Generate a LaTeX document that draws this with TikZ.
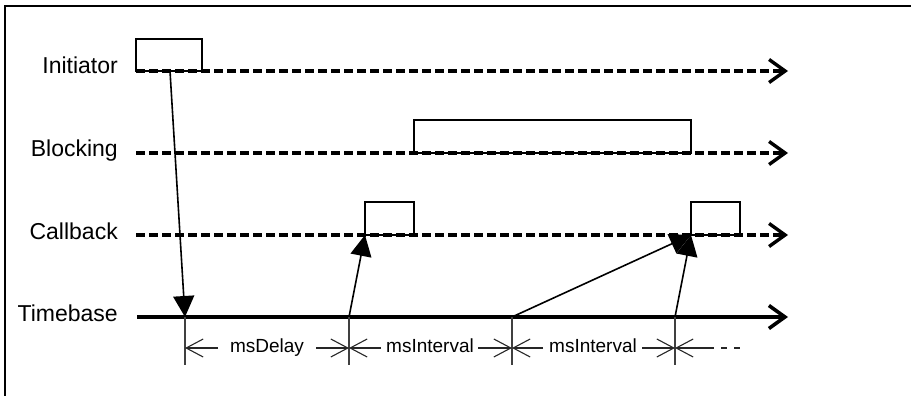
\documentclass[tikz,border=0pt]{standalone}
\usepackage{fontspec}
\setmainfont{Liberation Sans}
\usetikzlibrary{arrows.meta}
\begin{document}
\begin{tikzpicture}[x=1pt,y=-1pt,
  lifeline/.style={line width=3.4pt, dash pattern=on 8.5pt off 4.5pt,
    -{Straight Barb[length=16pt,width=23pt,line width=3.4pt]}},
  timeline/.style={line width=3.8pt, -{Straight Barb[length=16pt,width=23pt,line width=3.6pt]}},
  actbox/.style={draw, line width=1.7pt},
  msg/.style={line width=1.6pt, -{Triangle[length=21pt,width=21pt]}},
  tick/.style={line width=1.2pt, draw=black!75},
  dimline/.style={line width=1.2pt, draw=black!85, -{Straight Barb[length=17pt,width=18pt,line width=1.1pt]}},
  lbl/.style={font=\fontsize{23}{27}\selectfont, anchor=base east, inner sep=0pt},
  dimlbl/.style={font=\fontsize{19}{23}\selectfont, anchor=base, inner sep=0pt}
]
\useasboundingbox (0,0) rectangle (911,396);
% frame
\draw[line width=2pt] (5,397) -- (5,6) -- (912,6);

% labels
\node[lbl] (linit) at (118,74) {Initiator};
\node[lbl] (lblock) at (118,157) {Blocking};
\node[lbl] (lcall) at (118,239) {Callback};
\node[lbl] (ltime) at (118,321) {Timebase};

% lifeline coordinates
\coordinate (i0) at (136,71);  \coordinate (i1) at (788,71);
\coordinate (b0) at (136,153); \coordinate (b1) at (788,153);
\coordinate (c0) at (136,235); \coordinate (c1) at (788,235);
\coordinate (t0) at (137,317); \coordinate (t1) at (788,317);

% activation boxes
\draw[actbox] (136,71) rectangle (202,39);
\draw[actbox] (414,153) rectangle (691,120);
\draw[actbox] (365,235) rectangle (414,202);
\draw[actbox] (691,235) rectangle (740,202);

% lifelines
\draw[lifeline] (i0) -- (i1);
\draw[lifeline] (b0) -- (b1);
\draw[lifeline] (c0) -- (c1);
\draw[timeline] (t0) -- (t1);

% event points
\coordinate (start) at (170,71);
\coordinate (k1) at (185,317);
\coordinate (k2) at (349,317);
\coordinate (k3) at (512,317);
\coordinate (k4) at (675,317);
\coordinate (cb1) at (365,235);
\coordinate (cb2) at (691,235);

% messages
\draw[msg] (start) -- (k1);
\draw[msg] (k2) -- (cb1);
\draw[msg] (k3) -- (cb2);
\draw[msg] (k4) -- (cb2);

% ticks
\foreach \k in {k1,k2,k3,k4} {
  \draw[tick] (\k) -- ++(0,48);
}

% dimension labels
\node[dimlbl] (d1) at (267,352) {msDelay};
\node[dimlbl] (d2) at (430,352) {msInterval};
\node[dimlbl] (d3) at (593,352) {msInterval};

\coordinate (m1) at (185,348);
\coordinate (m2) at (349,348);
\coordinate (m3) at (512,348);
\coordinate (m4) at (675,348);

\draw[dimline] (218,348) -- (m1);
\draw[dimline] (316,348) -- (m2);
\draw[dimline] (381,348) -- (m2);
\draw[dimline] (478,348) -- (m3);
\draw[dimline] (543,348) -- (m3);
\draw[dimline] (642,348) -- (m4);
\draw[dimline] (708,348) -- (m4);
\draw[line width=1.2pt, draw=black!85, dash pattern=on 6pt off 7pt] (708,348) -- (741,348);
\end{tikzpicture}
\end{document}
